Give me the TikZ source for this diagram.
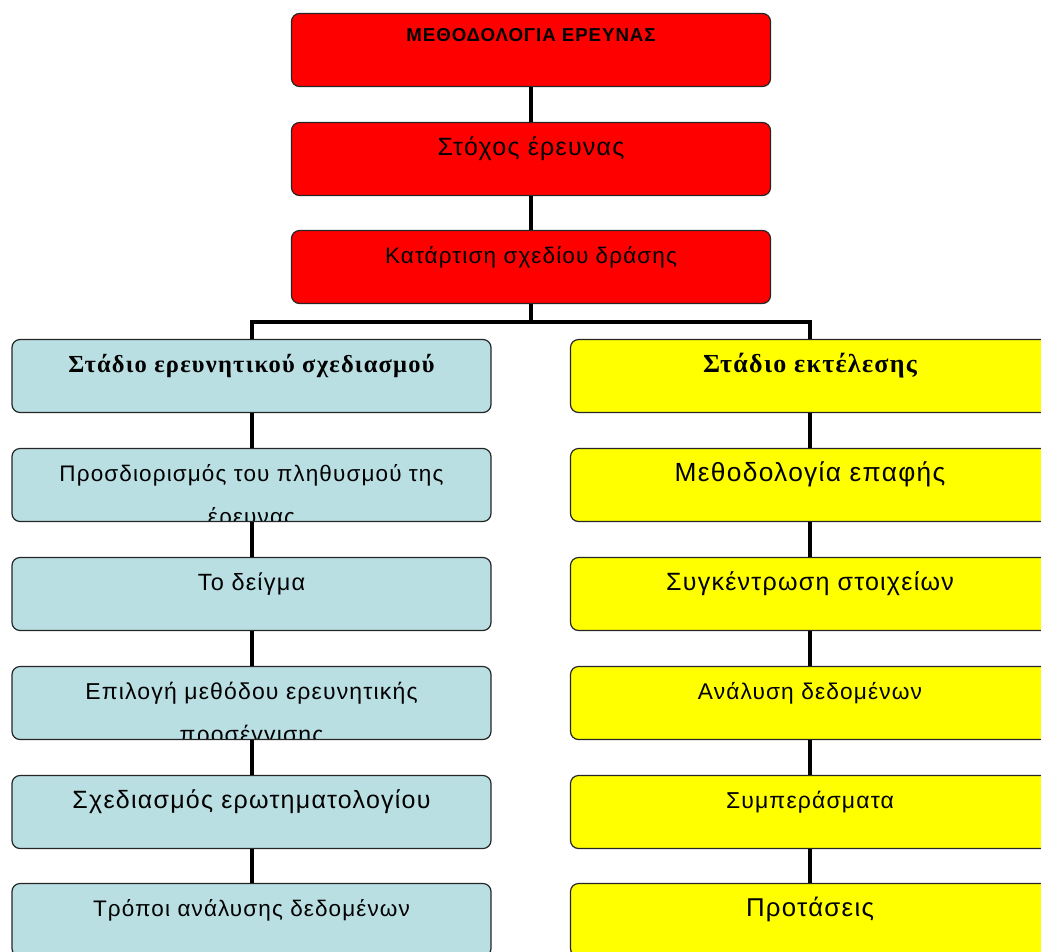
\documentclass[tikz,border=0pt]{standalone}
\usepackage{fontspec}
\setmainfont{Liberation Sans}[LetterSpace=5]
\newfontfamily\headfont{Liberation Serif}[LetterSpace=5]
\definecolor{boxred}{RGB}{255,0,0}
\definecolor{boxblue}{RGB}{185,223,227}
\definecolor{boxyellow}{RGB}{255,255,0}
\newcommand\twoline[2]{\begin{tabular}[t]{@{}c@{}}#1\\#2\end{tabular}}
\tikzset{
    box/.style={draw=black!85, line width=1.2pt, rounded corners=8pt,
        minimum width=479pt, minimum height=73pt, inner sep=0pt},
    redbox/.style={box, fill=boxred},
    bluebox/.style={box, fill=boxblue},
    yellowbox/.style={box, fill=boxyellow},
    textdrop/.store in=\boxdrop, textdrop=33pt,
    txt/.style 2 args={path picture={
        \node[anchor=base, inner sep=0pt, font=#1]
            at ([yshift=-\boxdrop]path picture bounding box.north) {#2};}},
    link/.style={line width=4pt}
}
\begin{document}
\begin{tikzpicture}[x=1pt, y=-1pt]
    \clip (0,0) rectangle (1041,951);

    % Main stages
    \node[redbox, textdrop=28pt, txt={\bfseries\fontsize{18.7}{22}\selectfont}{ΜΕΘΟΔΟΛΟΓΙΑ ΕΡΕΥΝΑΣ}] (title) at (531,50) {};
    \node[redbox, txt={\fontsize{25}{30}\selectfont}{Στόχος έρευνας}] (goal) at (531,159) {};
    \node[redbox, txt={\fontsize{22.5}{30}\selectfont}{Κατάρτιση σχεδίου δράσης}] (plan) at (531,267) {};

    % Left branch
    \node[bluebox, txt={\headfont\bfseries\fontsize{24.5}{30}\selectfont}{Στάδιο ερευνητικού σχεδιασμού}] (l0) at (251.5,376) {};
    \node[bluebox, txt={\fontsize{22.5}{43}\selectfont}{\twoline{Προσδιορισμός του πληθυσμού της}{έρευνας}}] (l1) at (251.5,485) {};
    \node[bluebox, txt={\fontsize{23.5}{30}\selectfont}{Το δείγμα}] (l2) at (251.5,594) {};
    \node[bluebox, txt={\fontsize{23}{43}\selectfont}{\twoline{Επιλογή μεθόδου ερευνητικής}{προσέγγισης}}] (l3) at (251.5,703) {};
    \node[bluebox, txt={\fontsize{25}{30}\selectfont}{Σχεδιασμός ερωτηματολογίου}] (l4) at (251.5,812) {};
    \node[bluebox, txt={\fontsize{22.5}{30}\selectfont}{Τρόποι ανάλυσης δεδομένων}] (l5) at (251.5,920) {};

    % Right branch
    \node[yellowbox, txt={\headfont\bfseries\fontsize{26}{30}\selectfont}{Στάδιο εκτέλεσης}] (r0) at (810,376) {};
    \node[yellowbox, txt={\fontsize{26.3}{30}\selectfont}{Μεθοδολογία επαφής}] (r1) at (810,485) {};
    \node[yellowbox, txt={\fontsize{25}{30}\selectfont}{Συγκέντρωση στοιχείων}] (r2) at (810,594) {};
    \node[yellowbox, txt={\fontsize{22.7}{30}\selectfont}{Ανάλυση δεδομένων}] (r3) at (810,703) {};
    \node[yellowbox, txt={\fontsize{23}{30}\selectfont}{Συμπεράσματα}] (r4) at (810,812) {};
    \node[yellowbox, txt={\fontsize{25.8}{30}\selectfont}{Προτάσεις}] (r5) at (810,920) {};

    % Connectors
    \coordinate (split) at (531,322);
    \draw[link] (title) -- (goal);
    \draw[link] (goal) -- (plan);
    \draw[link] (plan) -- (split);
    \draw[link] (l0.north) |- (split) -| (r0.north);
    \foreach \a/\b in {0/1,1/2,2/3,3/4,4/5} {
        \draw[link] (l\a) -- (l\b);
        \draw[link] (r\a) -- (r\b);
    }
\end{tikzpicture}
\end{document}
